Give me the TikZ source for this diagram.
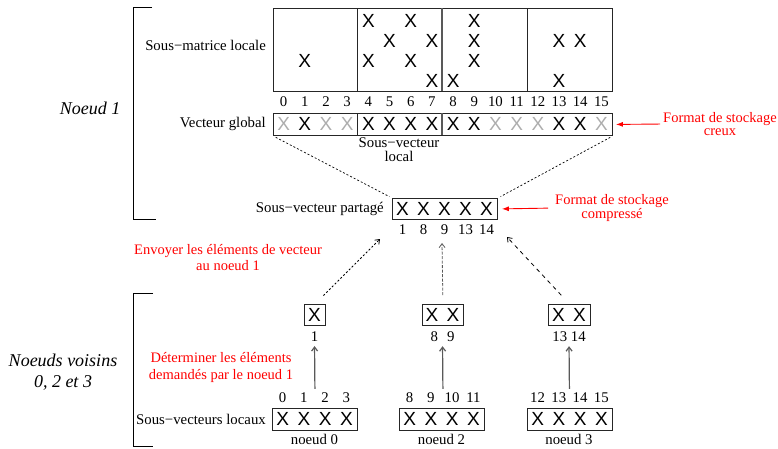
\documentclass[tikz,border=0pt]{standalone}
\usepackage{fontspec}
\setmainfont{Liberation Serif}
\newfontfamily\xfont{Liberation Sans}
\usetikzlibrary{arrows.meta}
\definecolor{lgray}{gray}{0.68}
\definecolor{dgray}{gray}{0.35}
\begin{document}
\begin{tikzpicture}[x=1pt,y=-1pt,
  lbl/.style={font=\fontsize{14.8}{14.8}\selectfont, inner sep=0pt},
  redlbl/.style={font=\fontsize{14.5}{14.5}\selectfont, inner sep=0pt, text=red, align=center},
  itlbl/.style={font=\fontsize{18}{21}\selectfont\itshape, inner sep=0pt, align=center},
  xm/.style={font=\xfont\fontsize{19}{19}\selectfont, inner sep=0pt},
  xg/.style={xm, text=lgray},
  boxed/.style={draw=black!85, line width=0.9pt, inner sep=0pt, anchor=north west},
  thin dash/.style={dash pattern=on 2pt off 2pt, line width=0.7pt},
  redarrow/.style={red, line width=0.9pt, -{Latex[length=7pt,width=5pt]}},
  uparrow/.style={dgray, line width=1.2pt, -{Straight Barb[length=4pt,width=6pt]}},
  dasharrow/.style={line width=0.8pt, -{Straight Barb[length=4pt,width=6pt]}},
]
\useasboundingbox (0,0) rectangle (778,448);
\def\cw{21.1875}

% brackets
\draw[line width=0.9pt] (152,7) -- (133,7) -- (133,219) -- (156,219);
\draw[line width=0.9pt] (153,293) -- (133,293) -- (133,446) -- (153,446);
\node[itlbl] (noeud1) at (90,108) {Noeud 1};
\node[itlbl] (voisins) at (63,372) {Noeuds voisins\\0, 2 et 3};

% local sub-matrix
\node[boxed, minimum width=339pt, minimum height=83pt] (mat) at (273,8) {};
\draw[black!85, line width=0.9pt] (357,8) -- (357,91);
\draw[dgray, line width=1.6pt] (442,8) -- (442,91);
\draw[black!85, line width=0.9pt] (527,8) -- (527,91);
\foreach \r/\c in {1/4,1/6,1/9,2/5,2/7,2/9,2/13,2/14,3/1,3/4,3/6,3/9,4/7,4/8,4/13}
  \node[xm] (m\r-\c) at ({273+\cw*(\c+0.5)},{20.5+20.2*(\r-1)}) {X};
\node[lbl, anchor=east] (lmat) at (266,45) {Sous−matrice locale};

% global vector
\foreach \i in {0,...,15}
  \node[lbl] (d\i) at ({273+\cw*(\i+0.5)},102) {\i};
\node[boxed, minimum width=339pt, minimum height=22pt] (vg) at (273,113) {};
\draw[black!85, line width=0.9pt] (357,113) -- (357,135);
\draw[dgray, line width=1.6pt] (442,113) -- (442,135);
\foreach \i in {1,4,5,6,7,8,9,13,14}
  \node[xm] (v\i) at ({273+\cw*(\i+0.5)},124) {X};
\foreach \i in {0,2,3,10,11,12,15}
  \node[xg] (v\i) at ({273+\cw*(\i+0.5)},124) {X};
\node[lbl, anchor=east] (lvg) at (266,124) {Vecteur global};
\node[lbl, align=center, font=\fontsize{14.8}{14}\selectfont] (svloc) at (399,150) {Sous−vecteur\\local};
\node[redlbl, font=\fontsize{14.5}{13.5}\selectfont] (fmt1) at (720,124) {Format de stockage\\creux};
\draw[redarrow, shorten <=3pt, shorten >=3pt] (fmt1.west) -- (vg.east);

% shared sub-vector
\node[boxed, minimum width=105pt, minimum height=21pt] (sv) at (392,198) {};
\foreach \k/\n in {0/1,1/8,2/9,3/13,4/14} {
  \node[xm] (s\k) at ({402.5+21*\k},208.5) {X};
  \node[lbl] (sl\k) at ({402.5+21*\k},230) {\n};
}
\node[lbl, anchor=east] (lsv) at (384,209) {Sous−vecteur partagé};
\node[redlbl, font=\fontsize{14.5}{13.5}\selectfont] (fmt2) at (612,208) {Format de stockage\\compressé};
\draw[redarrow, shorten <=7pt, shorten >=4pt] (fmt2.west) -- (sv.east);

\draw[thin dash, shorten <=3pt, shorten >=3pt] (vg.south west) -- (sv.north west);
\draw[thin dash, shorten <=3pt, shorten >=3pt] (vg.south east) -- (sv.north east);

\node[redlbl, font=\fontsize{14.5}{16}\selectfont] (envoyer) at (228,258) {Envoyer les éléments de vecteur\\au noeud 1};
\node[redlbl, font=\fontsize{14.5}{17}\selectfont] (determiner) at (221,367) {Déterminer les éléments\\demandés par le noeud 1};

% small boxes of requested elements
\node[boxed, minimum width=21pt, minimum height=21pt] (n0s) at (304,304) {};
\node[xm] (n0sx) at (314.5,314.5) {X};
\node[lbl] (n0sl) at (314.5,337) {1};
\node[boxed, minimum width=41pt, minimum height=21pt] (n2s) at (422,304) {};
\node[xm] (n2sx1) at (432,314.5) {X};
\node[xm] (n2sx2) at (453,314.5) {X};
\node[lbl] (n2sl) at (442.5,337) {8\hspace{9pt}9};
\node[boxed, minimum width=42pt, minimum height=21pt] (n3s) at (548,304) {};
\node[xm] (n3sx1) at (558.5,314.5) {X};
\node[xm] (n3sx2) at (579.5,314.5) {X};
\node[lbl] (n3sl) at (569,337) {13 14};

% dashed sends
\coordinate (e0) at (380,239);
\coordinate (e2) at (442,243);
\coordinate (e3) at (507,237);
\draw[dasharrow, dash pattern=on 2pt off 2pt, shorten <=12pt] (n0s.north) -- (e0);
\draw[dasharrow, dgray, dash pattern=on 3pt off 1.5pt, shorten <=9pt] (n2s.north) -- (e2);
\draw[dasharrow, dash pattern=on 4pt off 4pt, shorten <=12pt] (n3s.north) -- (e3);

% local sub-vectors of neighbours
\foreach \nm/\x/\a in {n0l/272/0, n2l/399/8, n3l/527/12} {
  \node[boxed, minimum width=85pt, minimum height=22pt] (\nm) at (\x,408) {};
  \foreach \j in {0,...,3} {
    \node[xm] (\nm x\j) at ({\x+21.25*(\j+0.5)},419) {X};
    \pgfmathtruncatemacro\idx{\a+\j}
    \node[lbl] (\nm d\j) at ({\x+21.25*(\j+0.5)},398) {\idx};
  }
}
\node[lbl, anchor=base] (nn0) at (314.5,444) {noeud 0};
\node[lbl, anchor=base] (nn2) at (441.5,444) {noeud 2};
\node[lbl, anchor=base] (nn3) at (569,444) {noeud 3};
\node[lbl, anchor=east] (llocaux) at (266,419) {Sous−vecteurs locaux};

% determination arrows
\draw[uparrow, shorten <=4pt, shorten >=4pt] (n0ld1.north -| n0s.south) -- (n0sl.south);
\draw[uparrow, shorten <=4pt, shorten >=4pt] (n2ld1.north -| n2s.south) -- (n2sl.south);
\draw[uparrow, shorten <=4pt, shorten >=4pt] (n3ld1.north -| n3s.south) -- (n3sl.south);
\end{tikzpicture}
\end{document}
